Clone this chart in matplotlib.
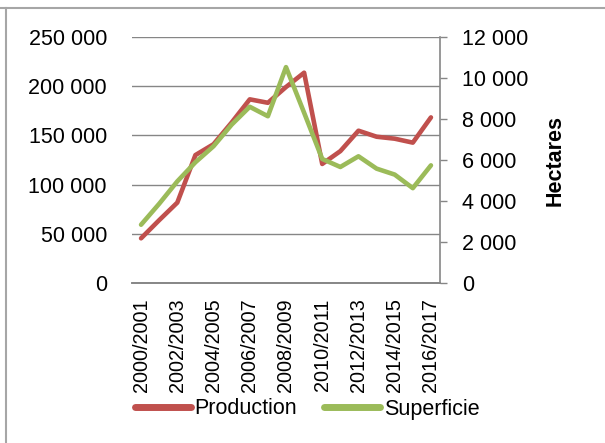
import numpy as np
import matplotlib
matplotlib.use("Agg")
import matplotlib.pyplot as plt
from matplotlib.ticker import FuncFormatter, MultipleLocator
from matplotlib.lines import Line2D

plt.rcParams['font.family'] = ['Liberation Sans', 'DejaVu Sans']

# donnees
saisons = ["2000/2001", "2001/2002", "2002/2003", "2003/2004", "2004/2005",
           "2005/2006", "2006/2007", "2007/2008", "2008/2009", "2009/2010",
           "2010/2011", "2011/2012", "2012/2013", "2013/2014", "2014/2015",
           "2015/2016", "2016/2017"]
production = [45600, 64000, 81800, 130000, 141000, 163000, 186500, 183000, 199000,
              213500, 121000, 134000, 154700, 148600, 146600, 142600, 168200]
superficie = [2850, 3870, 4960, 5890, 6670, 7720, 8590, 8130, 10520,
              8300, 6050, 5660, 6180, 5580, 5290, 4630, 5740]

rouge = "#C0504D"
vert = "#9BBB59"
gris = "#868686"
taille = 15.5

def milliers(v, pos):
    return f"{v:,.0f}".replace(",", " ")

fig = plt.figure(figsize=(6.05, 4.43), dpi=100)
ax = fig.add_axes([132/605, 1 - 283.3/443, 308/605, 246.6/443])
ax2 = ax.twinx()

x = np.arange(len(saisons))
l1, = ax.plot(x, production, color=rouge, lw=3.3, solid_capstyle='round', label="Production")
l2, = ax2.plot(x, superficie, color=vert, lw=3.3, solid_capstyle='round', label="Superficie")

# axe gauche
ax.set_ylim(0, 250000)
ax.yaxis.set_major_locator(MultipleLocator(50000))
ax.yaxis.set_major_formatter(FuncFormatter(milliers))
ax.grid(axis='y', color=gris, lw=1)
ax.set_axisbelow(True)
ax.tick_params(axis='y', length=0, pad=18, labelsize=taille)

# axe droit
ax2.set_ylim(0, 12000)
ax2.yaxis.set_major_locator(MultipleLocator(2000))
ax2.yaxis.set_major_formatter(FuncFormatter(milliers))
ax2.tick_params(axis='y', length=5, width=1, color=gris, pad=11, labelsize=taille)

# axe x
ax.set_xlim(-0.5, len(saisons) - 0.5)
ax.set_xticks(x[::2])
ax.set_xticklabels(saisons[::2], rotation=90, va='top', ha='center')
ax.tick_params(axis='x', length=0, pad=11, labelsize=14.3)

for a in (ax, ax2):
    for s in ('top', 'left'):
        a.spines[s].set_visible(False)
    a.spines['bottom'].set_color(gris)
    a.spines['right'].set_color(gris)
    a.spines['bottom'].set_linewidth(1.2)
ax2.spines['right'].set_linewidth(1.2)
ax.spines['right'].set_visible(False)

fig.text(555/605, 1 - 160/443, "Hectares", rotation=90, fontsize=taille,
         fontweight='bold', ha='center', va='center')

leg = fig.legend(handles=[l1, l2], loc='center', bbox_to_anchor=(307/605, 1 - 409/443),
                 ncol=2, frameon=False, fontsize=taille, handlelength=2.6,
                 handletextpad=0.15, columnspacing=1.3, borderpad=0, borderaxespad=0)
for h in leg.get_lines():
    h.set_linewidth(5)
    h.set_solid_capstyle('round')

# cadre
fig.add_artist(Line2D([0, 1], [1 - 7.5/443] * 2, transform=fig.transFigure, color="#a6a6a6", lw=1.5))
fig.add_artist(Line2D([5.5/605] * 2, [0, 1 - 7.5/443], transform=fig.transFigure, color="#a6a6a6", lw=1.5))

fig.savefig("out.png", dpi=100)
